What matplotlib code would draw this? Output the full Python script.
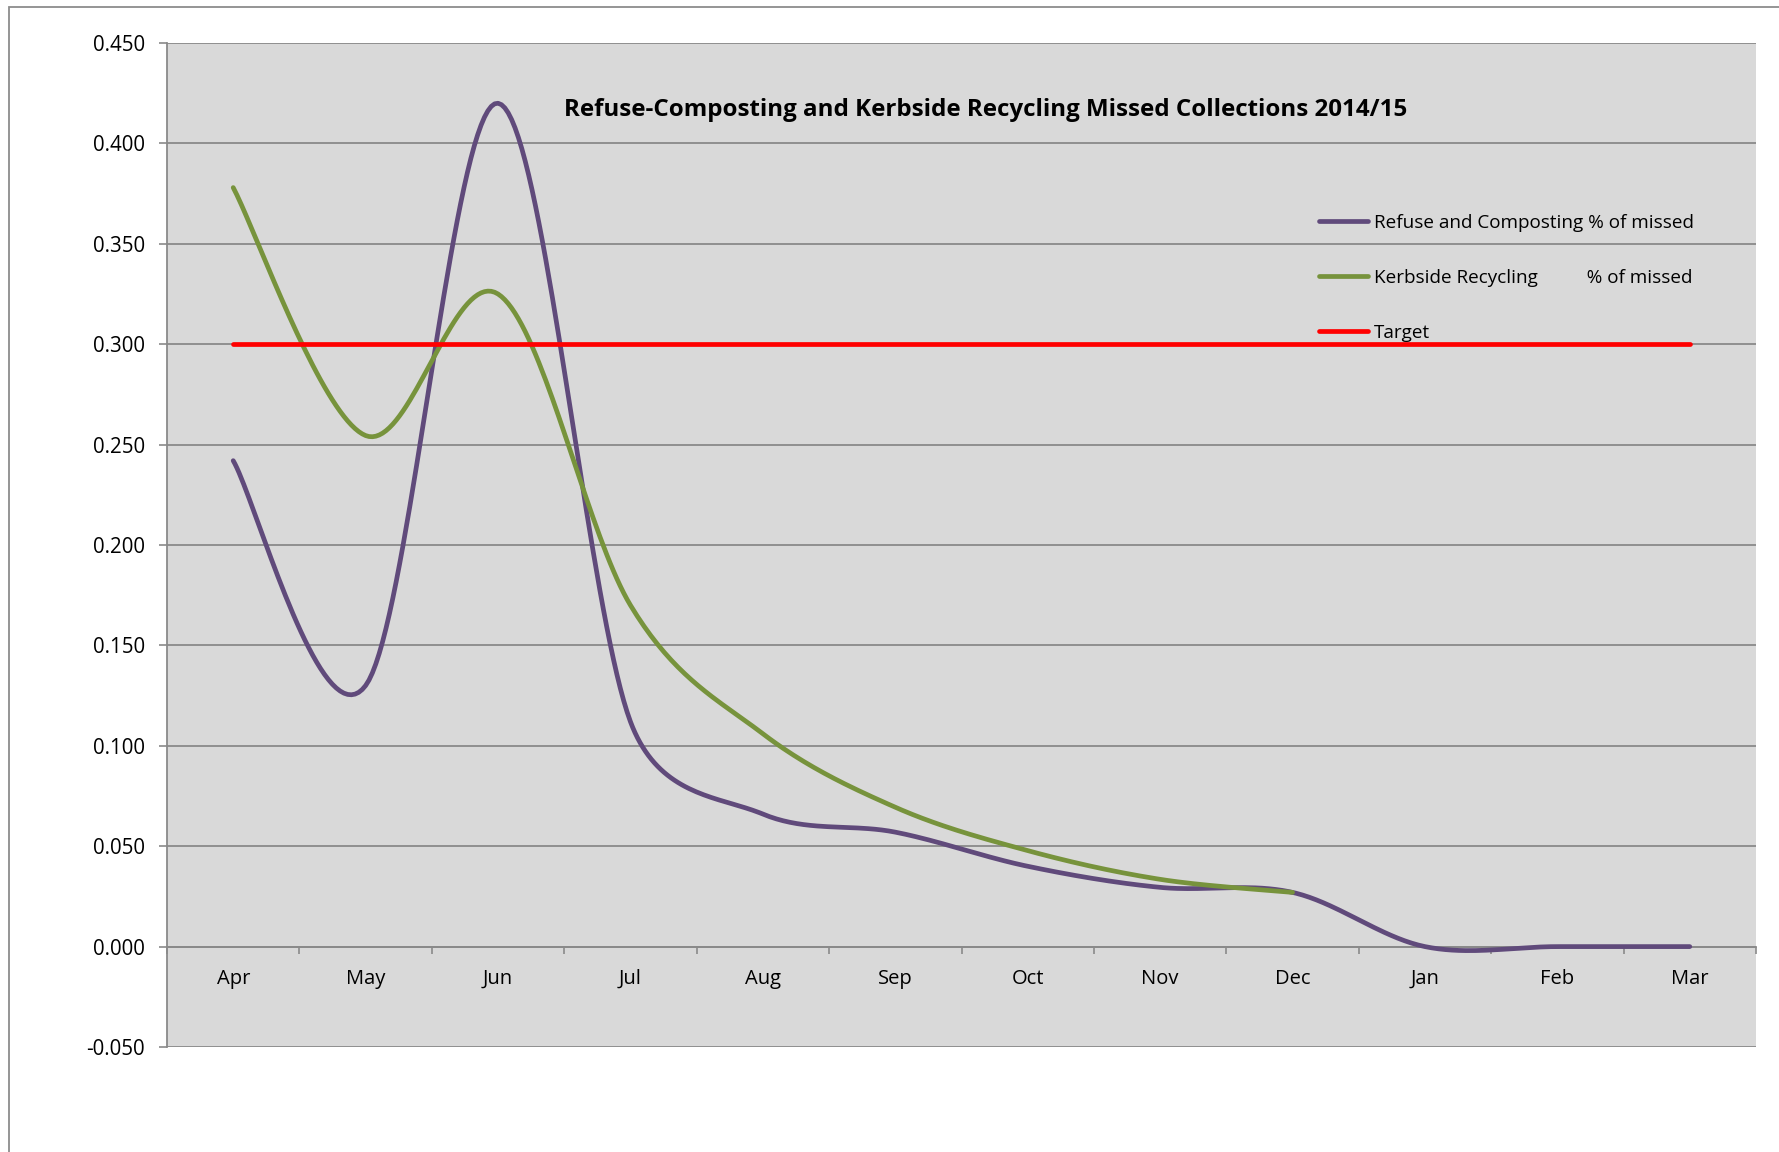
import numpy as np
import matplotlib
matplotlib.use("Agg")
import matplotlib.pyplot as plt
from matplotlib.patches import Rectangle
from matplotlib.ticker import FixedLocator

plt.rcParams['font.family'] = ['Open Sans', 'DejaVu Sans']

# data
months = ["Apr", "May", "Jun", "Jul", "Aug", "Sep", "Oct", "Nov", "Dec", "Jan", "Feb", "Mar"]
refuse = [0.242, 0.130, 0.420, 0.112, 0.066, 0.057, 0.040, 0.0295, 0.027, 0.0, 0.0, 0.0]
kerbside = [0.378, 0.2545, 0.325, 0.170, 0.106, 0.0694, 0.0478, 0.0335, 0.027]
target = [0.300] * 12
yticks = [-0.05, 0.0, 0.05, 0.10, 0.15, 0.20, 0.25, 0.30, 0.35, 0.40, 0.45]

title = "Refuse-Composting and Kerbside Recycling Missed Collections 2014/15"
labels = ["Refuse and Composting % of missed",
          "Kerbside Recycling          % of missed",
          "Target"]

PURPLE = "#604A7B"
GREEN = "#77933C"
RED = "#FF0000"
GRID = "#8A8A8A"

# axes box in pixels (figure is 1779 x 1152)
AX_L, AX_T, AX_R, AX_B = 167, 43, 1756, 1047
YMIN, YMAX = -0.05, 0.45


def smooth(x, y, sx, sy, n=40):
    """Excel-style smoothed line: Bezier through the points, control arms
    1/6 of the neighbour chord, limited to half the segment (screen space)."""
    pts = np.column_stack([np.asarray(x, float) * sx, np.asarray(y, float) * sy])
    ext = np.vstack([pts[0], pts, pts[-1]])
    t = np.linspace(0, 1, n)[:, None]
    out = []
    for i in range(len(pts) - 1):
        p0, p1, p2, p3 = ext[i], ext[i + 1], ext[i + 2], ext[i + 3]
        d12 = np.hypot(*(p2 - p1))
        d02 = np.hypot(*(p2 - p0))
        d13 = np.hypot(*(p3 - p1))
        f = 1 / 6 if d02 / 6 < d12 / 2 else d12 / d02 / 2
        g = 1 / 6 if d13 / 6 < d12 / 2 else d12 / d13 / 2
        c1 = p1 + (p2 - p0) * f
        c2 = p2 - (p3 - p1) * g
        seg = (1 - t) ** 3 * p1 + 3 * (1 - t) ** 2 * t * c1 + 3 * (1 - t) * t ** 2 * c2 + t ** 3 * p2
        out.append(seg if i == 0 else seg[1:])
    s = np.vstack(out)
    return s[:, 0] / sx, s[:, 1] / sy


fig = plt.figure(figsize=(17.79, 11.52), dpi=100, facecolor="white")
ax = fig.add_axes([AX_L / 1779, 1 - AX_B / 1152, (AX_R - AX_L) / 1779, (AX_B - AX_T) / 1152])
ax.set_facecolor("#D9D9D9")

# outer chart frame (only left/top edges visible)
fig.add_artist(Rectangle((9 / 1779, -0.5), 2.0, 0.5 + 1 - 7 / 1152, transform=fig.transFigure,
                         fill=False, edgecolor="#8C8C8C", linewidth=1.3))

sx = (AX_R - AX_L) / len(months)
sy = (AX_B - AX_T) / (YMAX - YMIN)

xr = np.arange(len(refuse))
xk = np.arange(len(kerbside))
xt = np.arange(len(target))

l1, = ax.plot(*smooth(xr, refuse, sx, sy), color=PURPLE, lw=3.4, solid_capstyle="round", zorder=3)
l2, = ax.plot(*smooth(xk, kerbside, sx, sy), color=GREEN, lw=3.4, solid_capstyle="round", zorder=3)
l3, = ax.plot(xt, target, color=RED, lw=3.4, solid_capstyle="round", zorder=3)

ax.set_xlim(-0.5, len(months) - 0.5)
ax.set_ylim(YMIN, YMAX)

ax.set_yticks(yticks)
ax.set_yticklabels([f"{v:.3f}" for v in yticks])
ax.tick_params(axis="y", direction="out", length=6, width=1.2, color=GRID, pad=10, labelsize=14.8)
ax.yaxis.grid(True, color=GRID, lw=1.3)
ax.set_axisbelow(True)

ax.set_xticks(xt)
ax.set_xticklabels(months)
ax.xaxis.set_minor_locator(FixedLocator(np.arange(len(months) + 1) - 0.5))
ax.tick_params(axis="x", which="major", length=0, pad=16, labelsize=14.5)
ax.tick_params(axis="x", which="minor", direction="out", length=5, width=1.2, color=GRID)

for s in ["top", "right"]:
    ax.spines[s].set_visible(False)
ax.spines["bottom"].set_position(("data", 0))
ax.spines["bottom"].set_color(GRID)
ax.spines["bottom"].set_linewidth(1.3)
ax.spines["left"].set_color(GRID)
ax.spines["left"].set_linewidth(1.3)

ax.text(0.5154, 0.933, title, transform=ax.transAxes, ha="center", va="center",
        fontsize=17.4, fontweight="bold")

ax.legend([l1, l2, l3], labels, loc="upper left",
          bbox_to_anchor=(1319 / 1779, 1 - 214 / 1152), bbox_transform=fig.transFigure,
          frameon=False, fontsize=13.6, handlelength=2.6, handletextpad=0.3,
          labelspacing=1.95, borderpad=0, borderaxespad=0)

fig.savefig("out.png", dpi=100, facecolor="white")
